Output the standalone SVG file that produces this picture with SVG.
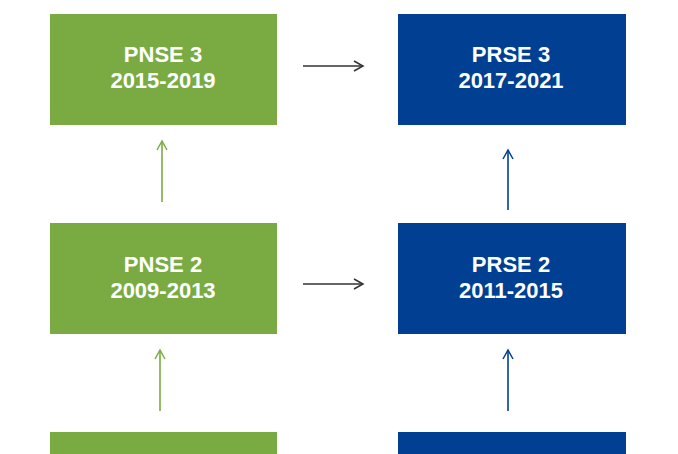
<svg xmlns="http://www.w3.org/2000/svg" width="678" height="454" viewBox="0 0 678 454">
<style>
.g{fill:#7aab42}.b{fill:#003f91}
.t{fill:#fff;font-family:"Liberation Sans",Arial,sans-serif;font-weight:bold;font-size:22px;text-anchor:middle}
.c{fill:none;stroke-width:1.6}
</style>
<defs>
<marker id="ak" markerWidth="12" markerHeight="12" refX="10" refY="6" orient="auto" markerUnits="userSpaceOnUse"><path d="M1,1 L10,6 L1,11" fill="none" stroke="#333" stroke-width="1.5"/></marker>
<marker id="ag" markerWidth="12" markerHeight="12" refX="10" refY="6" orient="auto" markerUnits="userSpaceOnUse"><path d="M1,1 L10,6 L1,11" fill="none" stroke="#7aab42" stroke-width="1.5"/></marker>
<marker id="ab" markerWidth="12" markerHeight="12" refX="10" refY="6" orient="auto" markerUnits="userSpaceOnUse"><path d="M1,1 L10,6 L1,11" fill="none" stroke="#003f91" stroke-width="1.5"/></marker>
</defs>
<rect width="678" height="454" fill="#fff"/>
<g id="pnse3"><rect class="g" x="50" y="14" width="227" height="111"/><text class="t" x="163" y="62">PNSE 3</text><text class="t" x="163" y="88">2015-2019</text></g>
<g id="prse3"><rect class="b" x="398" y="14" width="228" height="111"/><text class="t" x="511" y="62">PRSE 3</text><text class="t" x="511" y="88">2017-2021</text></g>
<g id="pnse2"><rect class="g" x="50" y="223" width="227" height="111"/><text class="t" x="163" y="272">PNSE 2</text><text class="t" x="163" y="298">2009-2013</text></g>
<g id="prse2"><rect class="b" x="398" y="223" width="228" height="111"/><text class="t" x="511" y="272">PRSE 2</text><text class="t" x="511" y="298">2011-2015</text></g>
<g id="pnse1"><rect class="g" x="50" y="432" width="227" height="30"/></g>
<g id="prse1"><rect class="b" x="398" y="432" width="228" height="30"/></g>
<g id="connectors">
<line class="c" stroke="#333" x1="303" y1="66" x2="363" y2="66" marker-end="url(#ak)"/>
<line class="c" stroke="#333" x1="303" y1="284" x2="363" y2="284" marker-end="url(#ak)"/>
<line class="c" stroke="#7aab42" x1="162" y1="202" x2="162" y2="141" marker-end="url(#ag)"/>
<line class="c" stroke="#7aab42" x1="160" y1="411" x2="160" y2="350" marker-end="url(#ag)"/>
<line class="c" stroke="#003f91" x1="508" y1="210" x2="508" y2="150" marker-end="url(#ab)"/>
<line class="c" stroke="#003f91" x1="508" y1="411" x2="508" y2="350" marker-end="url(#ab)"/>
</g>
</svg>
